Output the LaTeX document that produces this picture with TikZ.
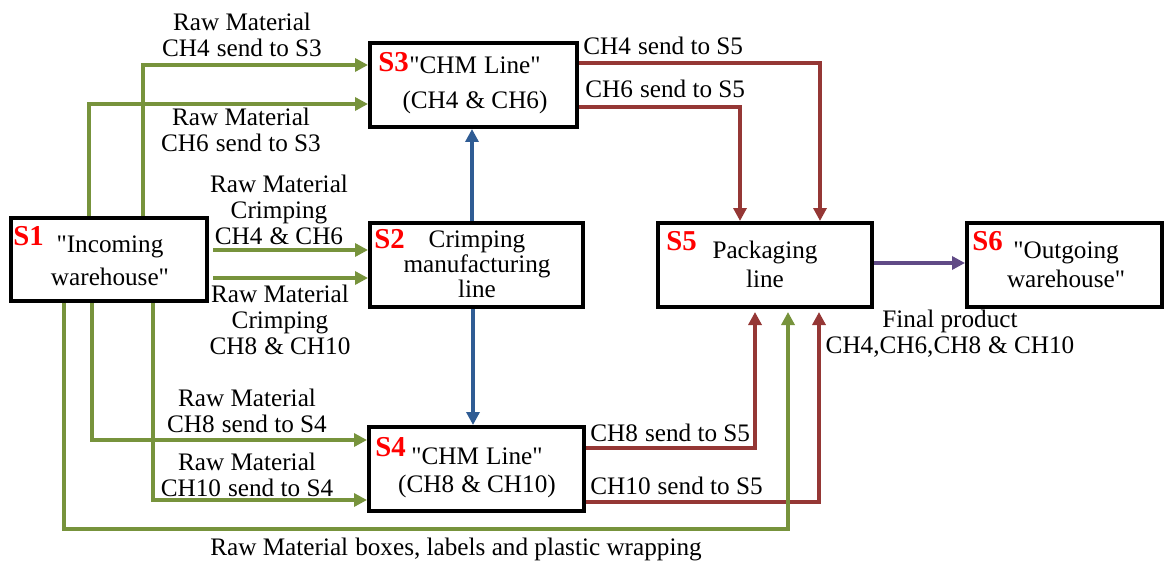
\documentclass[tikz,border=0pt]{standalone}
\usepackage{fontspec}
\setmainfont{Liberation Serif}[Ligatures=TeXOff]
\usetikzlibrary{arrows.meta}
\definecolor{flowgreen}{HTML}{77933C}
\definecolor{flowred}{HTML}{953735}
\definecolor{flowblue}{HTML}{2F5C94}
\definecolor{flowpurple}{HTML}{604A86}
\newcommand{\wsp}{\hspace{0.28em}}
\tikzset{
  box/.style={draw=black, line width=2pt, inner sep=0pt},
  txt/.style={font=\fontsize{12.6}{#1}\selectfont, inner sep=0pt, align=center},
  txt/.default=13,
  stag/.style={font=\fontsize{14.4}{15}\selectfont\bfseries, text=red, inner sep=0pt, anchor=base west},
  flow/.style={line width=1.7pt, -{Triangle[length=6.5pt,width=6.5pt]}},
  gflow/.style={flow, draw=flowgreen},
  rflow/.style={flow, draw=flowred},
  bflow/.style={flow, draw=flowblue},
  pflow/.style={flow, draw=flowpurple},
}
\begin{document}
\begin{tikzpicture}[x=0.5pt, y=-0.5pt]
\useasboundingbox (0,0) rectangle (1165,561);

% stations
\node[box, minimum width=98pt,   minimum height=41.5pt] (s1) at (109,259.5) {};
\node[box, minimum width=103.5pt, minimum height=42pt]  (s3) at (473.5,85) {};
\node[box, minimum width=106.5pt, minimum height=42pt]  (s2) at (476.5,265) {};
\node[box, minimum width=107.5pt, minimum height=42pt]  (s4) at (476.5,469) {};
\node[box, minimum width=107pt,   minimum height=42pt]  (s5) at (765,265) {};
\node[box, minimum width=97.5pt,  minimum height=42pt]  (s6) at (1064.5,265) {};

% station tags
\node[stag] (t1) at (13,245)  {S1};
\node[stag] (t3) at (378,72)  {S3};
\node[stag] (t2) at (374,248) {S2};
\node[stag] (t4) at (375,456) {S4};
\node[stag] (t5) at (666,250) {S5};
\node[stag] (t6) at (972,250) {S6};

% station texts (anchored at the baseline of the last line)
\node[txt=16.5, anchor=base] (x1) at (110,285)  {"Incoming\\warehouse"};
\node[txt=17.5, anchor=base] (x3) at (475,109)  {"CHM\wsp Line"\\(CH4\wsp\& CH6)};
\node[txt=12.5, anchor=base] (x2) at (477,297)  {Crimping\\manufacturing\\line};
\node[txt=14,   anchor=base] (x4) at (477,492)  {"CHM\wsp Line"\\(CH8\wsp\& CH10)};
\node[txt=14.5, anchor=base] (x5) at (765,287)  {Packaging\\line};
\node[txt=14.5, anchor=base] (x6) at (1066,287) {"Outgoing\\warehouse"};

% bend points of the connectors
\coordinate (g1) at (143,65);
\coordinate (g2) at (89,104);
\coordinate (g3) at (0,250);
\coordinate (g4) at (0,278);
\coordinate (g5) at (92,440);
\coordinate (g6) at (153,500);
\coordinate (g7) at (64,529);
\coordinate (g8) at (788,529);
\coordinate (r1) at (820,63);
\coordinate (r2) at (740,107);
\coordinate (r3) at (755,448);
\coordinate (r4) at (819,502);
\coordinate (b1) at (472,0);
\coordinate (b2) at (473,0);
\coordinate (p1) at (0,263);

% raw material from S1
\draw[gflow] (s1.north -| g1) |- (s3.west |- g1);
\draw[gflow] (s1.north -| g2) |- (s3.west |- g2);
\draw[gflow] ([xshift=2pt]s1.east |- g3) -- (s2.west |- g3);
\draw[gflow] ([xshift=2pt]s1.east |- g4) -- (s2.west |- g4);
\draw[gflow] (s1.south -| g5) |- (s4.west |- g5);
\draw[gflow] (s1.south -| g6) |- (s4.west |- g6);

% CHM lines to packaging
\draw[rflow] (s3.east |- r1) -| (s5.north -| r1);
\draw[rflow] (s3.east |- r2) -| (s5.north -| r2);
\draw[rflow, shorten >=1.5pt] (s4.east |- r3) -| (s5.south -| r3);
\draw[rflow, shorten >=1.5pt] (s4.east |- r4) -| (s5.south -| r4);

% packaging material straight to S5
\draw[gflow, shorten >=1.5pt] (s1.south -| g7) |- (g8) -- (s5.south -| g8);

% crimped parts
\draw[bflow] (s2.north -| b1) -- (s3.south -| b1);
\draw[bflow] (s2.south -| b2) -- (s4.north -| b2);

% finished goods
\draw[pflow] (s5.east |- p1) -- (s6.west |- p1);

% connector labels (anchored at the baseline of the last line)
\node[txt, anchor=base] (l1) at (242,57)  {Raw Material\\CH4\wsp send to S3};
\node[txt, anchor=base] (l2) at (241,152) {Raw Material\\CH6\wsp send to S3};
\node[txt, anchor=base] (l3) at (279,244) {Raw Material\\Crimping\\CH4\wsp\& CH6};
\node[txt, anchor=base] (l4) at (280,354) {Raw Material\\Crimping\\CH8\wsp\& CH10};
\node[txt, anchor=base] (l5) at (247,432) {Raw Material\\CH8\wsp send to S4};
\node[txt, anchor=base] (l6) at (247,496) {Raw Material\\CH10\wsp send to S4};
\node[txt, anchor=base] (l7) at (456,555) {Raw Material\wsp boxes, labels and plastic wrapping};
\node[txt, anchor=base west] (l8) at (583,55)  {CH4\wsp send to S5};
\node[txt, anchor=base west] (l9) at (585,98)  {CH6\wsp send to S5};
\node[txt, anchor=base west] (l10) at (590,441) {CH8\wsp send to S5};
\node[txt, anchor=base west] (l11) at (590,494) {CH10\wsp send to S5};
\node[txt, anchor=base] (l12) at (950,353) {Final product\\CH4,CH6,CH8\wsp\& CH10};
\end{tikzpicture}
\end{document}
